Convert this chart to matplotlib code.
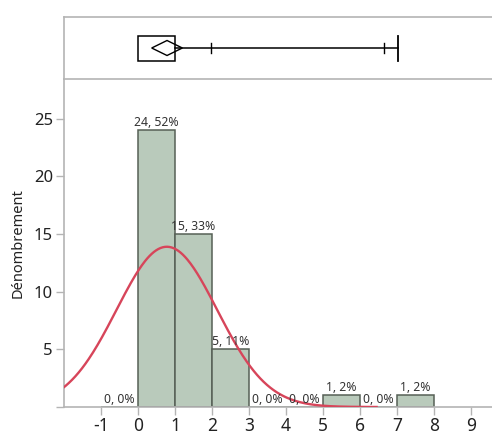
import numpy as np
import matplotlib.pyplot as plt
from matplotlib.patches import Rectangle, Polygon

plt.rcParams['font.family'] = ['Noto Sans', 'DejaVu Sans']
plt.rcParams['axes.unicode_minus'] = False

# histogram data (bins of width 1)
bin_edges = [-1, 0, 1, 2, 3, 4, 5, 6, 7, 8]
counts = [0, 24, 15, 5, 0, 0, 1, 0, 1]
percents = [0, 52, 33, 11, 0, 0, 2, 0, 2]

# normal fit drawn over the histogram
fit_mean = 0.78
fit_sd = 1.36
fit_peak = 13.9
fit_end = 6.45

# outlier box plot summary
q1, q3 = 0.0, 1.0
ci_low, ci_high = 0.37, 1.2
whisk_max = 7.03
quant_marks = [1.97, 6.65]

xlim = (-2, 9.57)
grey = '#b4b4b4'
bar_face = '#b9cabb'
bar_edge = '#566056'
curve_col = '#d7455a'

fig = plt.figure(figsize=(4.92, 4.34), dpi=100)
ax = fig.add_axes([64 / 492, 1 - 407 / 434, 1 - 64 / 492, (407 - 79) / 434])
axb = fig.add_axes([64 / 492, 1 - 79 / 434, 1 - 64 / 492, (79 - 17) / 434])

# histogram
lefts = bin_edges[:-1]
ax.bar(lefts, counts, width=1, align='edge', color=bar_face,
       edgecolor=bar_edge, linewidth=1.1, zorder=2)
for lx, c, p in zip(lefts, counts, percents):
    ax.text(lx + 0.5, c + 0.1, f"{c}, {p}%", ha='center', va='bottom',
            fontsize=8.8, color='#333333', zorder=4)

xs = np.linspace(-2.5, fit_end, 300)
ys = fit_peak * np.exp(-0.5 * ((xs - fit_mean) / fit_sd) ** 2)
ax.plot(xs, ys, color=curve_col, lw=1.7, zorder=3, clip_on=True)

ax.set_xlim(*xlim)
ax.set_ylim(0, 28.45)
ax.set_xticks(range(-1, 10))
ax.set_yticks([0, 5, 10, 15, 20, 25])
ax.set_yticklabels(['', '5', '10', '15', '20', '25'])
ax.tick_params(axis='x', labelsize=12.5, length=6, color=grey, width=1,
               labelcolor='#222222', pad=1)
ax.tick_params(axis='y', labelsize=12, length=6, color=grey, width=1,
               labelcolor='#222222', pad=2)
for s in ['top', 'right']:
    ax.spines[s].set_visible(False)
for s in ['left', 'bottom']:
    ax.spines[s].set_color(grey)
    ax.spines[s].set_linewidth(1.2)
ax.set_ylabel('Dénombrement', fontsize=10.5, color='#222222', labelpad=6)

# box plot panel
axb.set_xlim(*xlim)
axb.set_ylim(0, 62)
axb.set_xticks([])
axb.set_yticks([])
for s in ['top', 'left', 'bottom']:
    axb.spines[s].set_color(grey)
    axb.spines[s].set_linewidth(1.2)
axb.spines['right'].set_visible(False)

yc = 31
axb.add_patch(Rectangle((q1, 18), q3 - q1, 25, fill=False,
                        edgecolor='black', lw=1.1))
mid = (ci_low + ci_high) / 2
axb.add_patch(Polygon([(ci_low, yc), (mid, yc + 7.5), (ci_high, yc), (mid, yc - 7.5)],
                      closed=True, fill=False, edgecolor='black', lw=1.0))
axb.plot([q3, whisk_max], [yc, yc], color='black', lw=1.1)
for qm in quant_marks:
    axb.plot([qm, qm], [yc - 5, yc + 5], color='black', lw=1.0)
axb.plot([whisk_max, whisk_max], [18, 43], color='black', lw=1.3)

fig.savefig('out.png', dpi=100)
